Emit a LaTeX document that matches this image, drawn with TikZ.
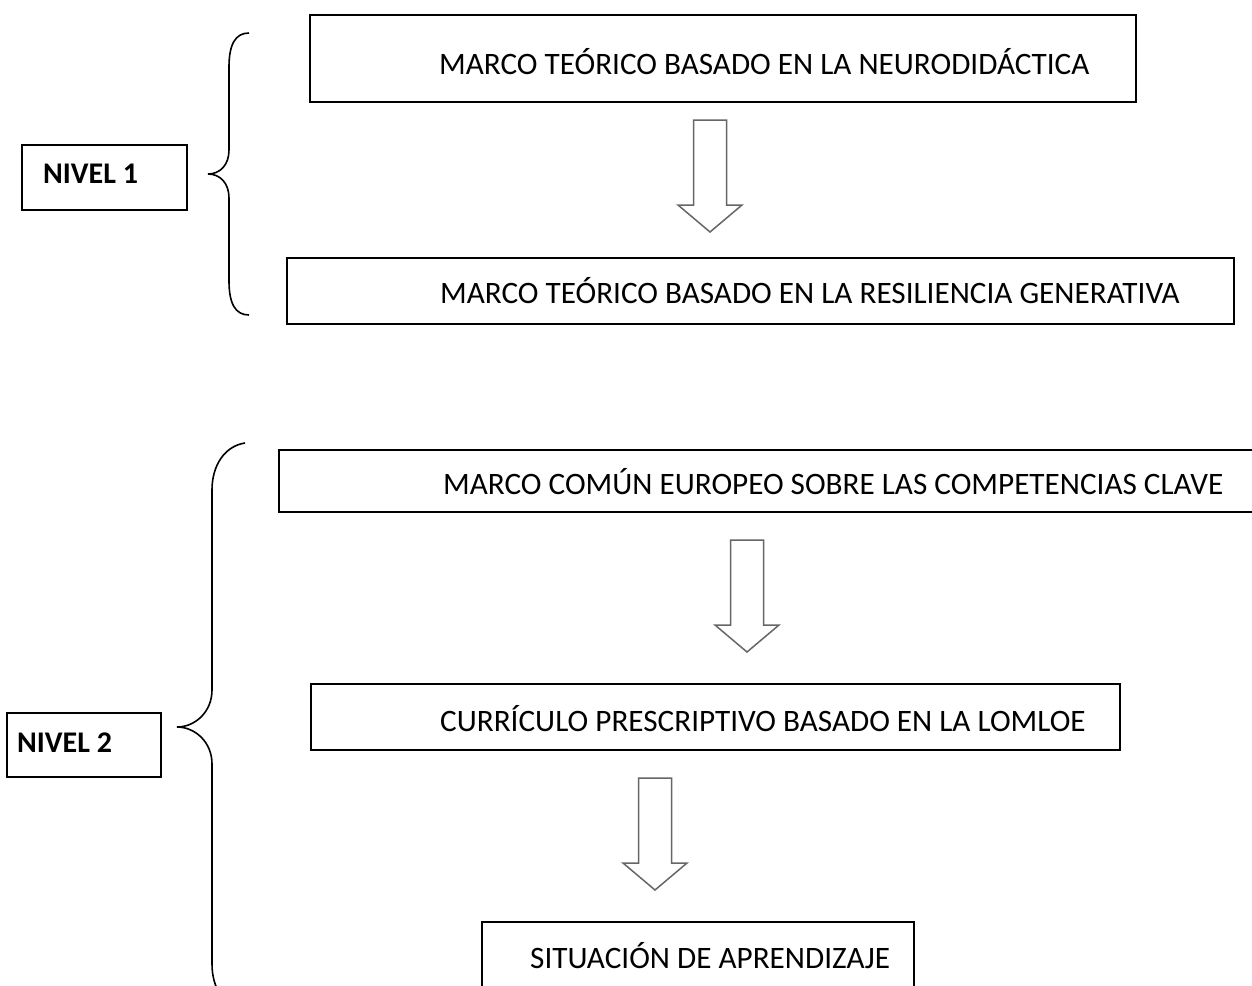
\documentclass[tikz,border=0pt]{standalone}
\usepackage{fontspec}
\setmainfont{Carlito}

\tikzset{
  caja/.style={draw, line width=1.6pt, anchor=north west, inner sep=0pt},
  texto/.style={anchor=base west, inner sep=0pt, font=\fontsize{31.2}{37}\selectfont},
  nivel/.style={anchor=base west, inner sep=0pt, font=\fontsize{30}{36}\selectfont\bfseries},
  flecha/.style={draw=black!60, line width=1.5pt, fill=white, line join=miter},
  llave/.style={line width=1.6pt}
}

\begin{document}
\begin{tikzpicture}[x=1pt,y=-1pt]
  \clip (0,0) rectangle (1252,985);
  \fill[white] (0,0) rectangle (1252,985);

  % nivel 1
  \node[caja, minimum width=826pt, minimum height=87pt] (neuro) at (309,14) {};
  \node[texto] (neurotxt) at (439,74) {MARCO TEÓRICO BASADO EN LA NEURODIDÁCTICA};
  \node[caja, minimum width=947pt, minimum height=66pt] (resil) at (286,257) {};
  \node[texto] (resiltxt) at (440,303) {MARCO TEÓRICO BASADO EN LA RESILIENCIA GENERATIVA};
  \node[caja, minimum width=165pt, minimum height=65pt] (nivelA) at (21,144) {};
  \node[nivel] (nivelAtxt) at (43,183) {NIVEL 1};

  % nivel 2
  \node[caja, minimum width=1000pt, minimum height=62pt] (europeo) at (278,449) {};
  \node[texto] (europeotxt) at (443,494) {MARCO COMÚN EUROPEO SOBRE LAS COMPETENCIAS CLAVE};
  \node[caja, minimum width=809pt, minimum height=66pt] (curriculo) at (310,683) {};
  \node[texto] (curriculotxt) at (440,731) {CURRÍCULO PRESCRIPTIVO BASADO EN LA LOMLOE};
  \node[caja, minimum width=432pt, minimum height=100pt] (situacion) at (481,921) {};
  \node[texto] (situaciontxt) at (530,968) {SITUACIÓN DE APRENDIZAJE};
  \node[caja, minimum width=154pt, minimum height=64pt] (nivelB) at (6,712) {};
  \node[nivel] (nivelBtxt) at (17,752) {NIVEL 2};

  % flechas de bloque
  \foreach \x/\y in {710/120, 747/540, 655/778}
    \draw[flecha] ({\x-16.5},\y) -- ({\x+16.5},\y) -- ({\x+16.5},{\y+85})
      -- ({\x+32},{\y+85}) -- (\x,{\y+112}) -- ({\x-32},{\y+85})
      -- ({\x-16.5},{\y+85}) -- cycle;

  % llaves
  \draw[llave] (249,33) .. controls (235,33) and (229,45) .. (229,67) -- (229,150)
    .. controls (229,165) and (220,174) .. (208,174)
    .. controls (220,174) and (229,183) .. (229,198) -- (229,281)
    .. controls (229,303) and (235,315) .. (249,315);
  \draw[llave] (245,443) .. controls (225,446) and (212,465) .. (212,490) -- (212,690)
    .. controls (212,712) and (195,727) .. (177,727)
    .. controls (195,727) and (212,742) .. (212,764) -- (212,964)
    .. controls (212,989) and (225,1008) .. (245,1011);
\end{tikzpicture}
\end{document}
